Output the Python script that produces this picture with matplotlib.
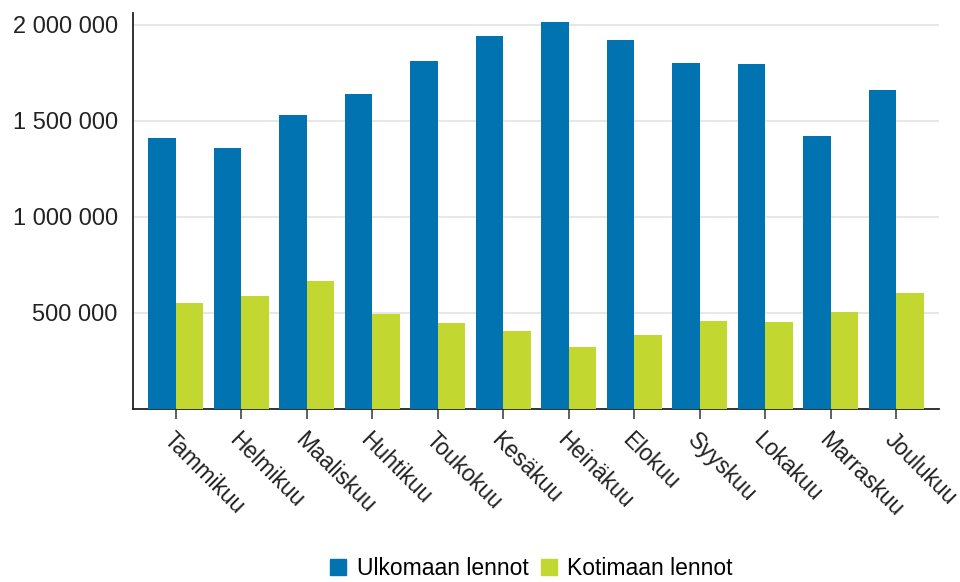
import matplotlib

matplotlib.use("Agg")
import matplotlib.pyplot as plt  # noqa: E402
import numpy as np  # noqa: E402
from matplotlib.lines import Line2D  # noqa: E402
from matplotlib.ticker import FuncFormatter  # noqa: E402

plt.rcParams["font.family"] = ["Liberation Sans", "DejaVu Sans"]

months = ["Tammikuu", "Helmikuu", "Maaliskuu", "Huhtikuu", "Toukokuu", "Kesäkuu",
          "Heinäkuu", "Elokuu", "Syyskuu", "Lokakuu", "Marraskuu", "Joulukuu"]
ulkomaan = [1410000, 1360000, 1531000, 1639000, 1814000, 1943000,
            2016000, 1922000, 1804000, 1795000, 1422000, 1661000]
kotimaan = [554000, 589000, 668000, 493000, 450000, 408000,
            325000, 384000, 460000, 455000, 503000, 602000]
yticks = [500000, 1000000, 1500000, 2000000]

BLUE = "#0073B0"
GREEN = "#C2D730"

fig = plt.figure(figsize=(9.6, 5.82), dpi=100)
ax = fig.add_axes([0.1385, 0.2973, 0.8395, 0.6804])

x = np.arange(len(months))
w = 0.42
ax.bar(x - w / 2, ulkomaan, w, color=BLUE, label="Ulkomaan lennot", zorder=3)
ax.bar(x + w / 2, kotimaan, w, color=GREEN, label="Kotimaan lennot", zorder=3)

ax.set_xlim(-0.65, len(months) - 0.35)
ax.set_ylim(0, 2062500)
ax.set_yticks(yticks)
ax.yaxis.set_major_formatter(FuncFormatter(lambda v, p: f"{int(v):,}".replace(",", " ")))
ax.tick_params(axis="y", length=0, pad=11, labelsize=17, labelcolor="#222222")
ax.grid(axis="y", color="#e3e3e3", lw=1.2, zorder=0)

ax.set_xticks(x)
ax.set_xticklabels(months, rotation=-45, ha="left", va="top", rotation_mode="anchor",
                   fontsize=16.5, color="#222222")
ax.tick_params(axis="x", length=7, width=1.2, color="#444444", pad=7)

for side in ["top", "right"]:
    ax.spines[side].set_visible(False)
for side in ["left", "bottom"]:
    ax.spines[side].set_color("#222222")
    ax.spines[side].set_linewidth(1.3)

handles = [Line2D([], [], marker="s", ls="none", color=BLUE, markersize=11),
           Line2D([], [], marker="s", ls="none", color=GREEN, markersize=11)]
fig.legend(handles, ["Ulkomaan lennot", "Kotimaan lennot"], loc="lower center",
           bbox_to_anchor=(0.553, -0.032), ncol=2, frameon=False, fontsize=16.5,
           handlelength=0.8, handletextpad=0.4, columnspacing=0.5)

fig.savefig("out.png", dpi=100)
